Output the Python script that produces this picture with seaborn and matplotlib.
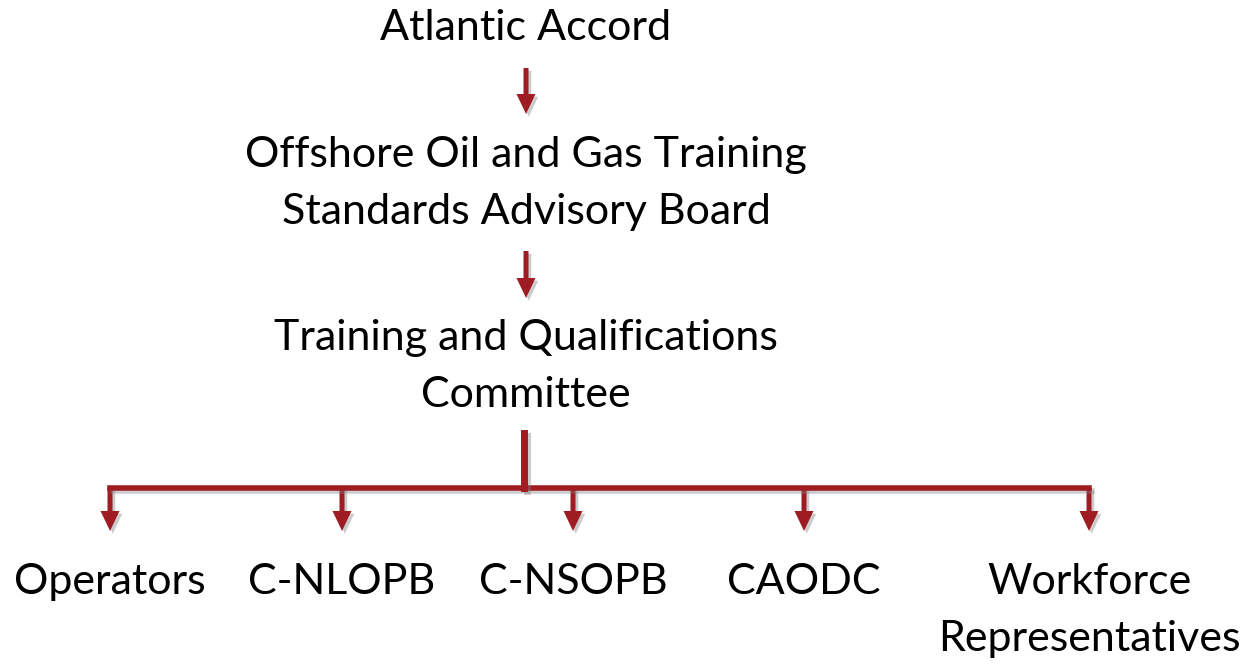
import matplotlib
matplotlib.use("Agg")
import matplotlib.pyplot as plt
import matplotlib.patheffects as pe
import seaborn as sns

sns.set_theme(style="white")
plt.rcParams['font.family'] = ['Lato', 'DejaVu Sans']

# Chart content
top_labels = ["Atlantic Accord",
              "Offshore Oil and Gas Training\nStandards Advisory Board",
              "Training and Qualifications\nCommittee"]
bottom_labels = ["Operators", "C-NLOPB", "C-NSOPB", "CAODC",
                 "Workforce\nRepresentatives"]

RED = "#9E1C22"
W, H = 1250, 664
fig = plt.figure(figsize=(W / 100, H / 100), dpi=100)
ax = fig.add_axes([0, 0, 1, 1])
ax.set_xlim(0, W)
ax.set_ylim(H, 0)
ax.axis("off")

shadow = [pe.SimpleLineShadow(offset=(2, -2), shadow_color="0.5", alpha=0.4), pe.Normal()]
pshadow = [pe.SimplePatchShadow(offset=(2, -2), shadow_rgbFace="0.5", alpha=0.4), pe.Normal()]

fs = 31
LS = 57  # pixel gap between lines


def label(x, y0, text):
    for i, line in enumerate(text.split("\n")):
        ax.text(x, y0 + i * LS, line, ha="center", va="center", fontsize=fs,
                color="black")


cx = 526
top_y = [28, 155, 338]
for lab, y in zip(top_labels, top_y):
    label(cx, y, lab)


def down_arrow(x, y0, y1):
    a = ax.arrow(x, y0, 0, y1 - y0, width=5, head_width=19, head_length=20,
                 length_includes_head=True, color=RED, lw=0)
    a.set_path_effects(pshadow)


down_arrow(cx, 68, 114)
down_arrow(cx, 251, 298)

# connector
bx = [110, 342, 573, 804, 1089]
hy = 488
ax.plot([bx[0], bx[-1]], [hy, hy], color=RED, lw=4, solid_capstyle="projecting",
        path_effects=shadow)
ax.plot([524, 524], [433, hy], color=RED, lw=5, solid_capstyle="projecting",
        path_effects=shadow)
for x in bx:
    down_arrow(x, hy, 531)

for lab, x in zip(bottom_labels, bx):
    label(x, 582, lab)

fig.savefig("out.png", dpi=100)
